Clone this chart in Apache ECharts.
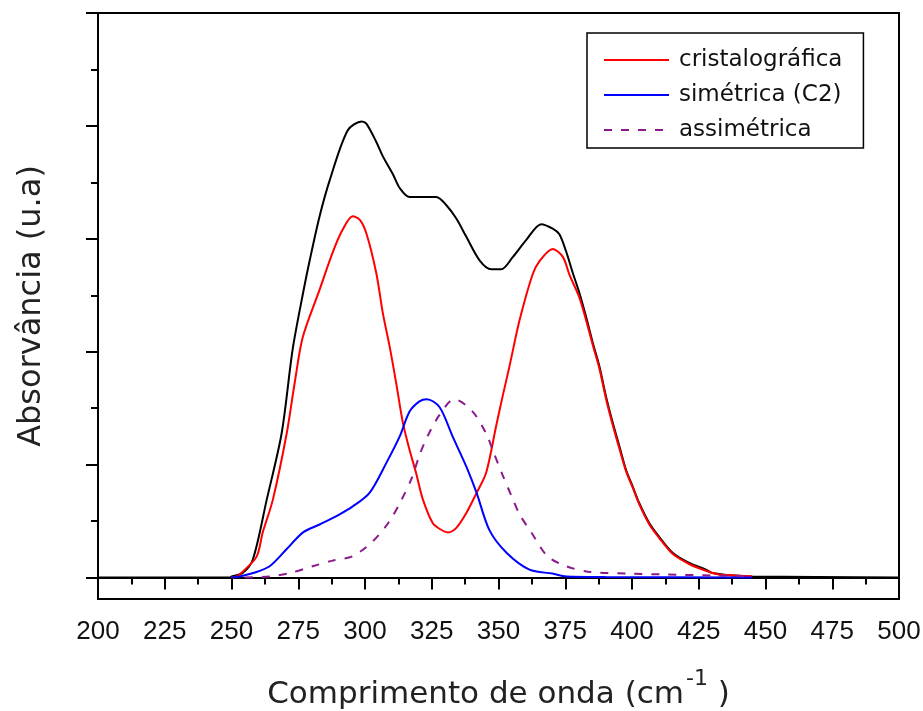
<!DOCTYPE html>
<html>
<head>
<meta charset="utf-8">
<script src="https://cdn.jsdelivr.net/npm/echarts@6/dist/echarts.min.js"></script>
<style>
  html, body { margin: 0; padding: 0; background: #fff; }
  #chart { width: 923px; height: 711px; }
</style>
</head>
<body>
<div id="chart"></div>
<script>
// Band components of the absorbance spectrum (wavenumber in cm^-1, absorbance in a.u.)
const legendNames = ['cristalográfica', 'simétrica (C2)', 'assimétrica'];

const totalWn = [200, 249.5, 250.1, 254.2, 258.0, 263.2, 268.8, 272.9, 276.8, 279.3, 283.0, 286.8, 293.5, 298.8, 300.5, 304.2, 306.7, 310.5, 313.0, 316.7, 321.7, 326.7, 330.4, 334.2, 337.9, 342.9, 347.3, 351.0, 355.4, 360.4, 366.0, 370.3, 372.8, 375.3, 377.8, 380.3, 382.8, 385.3, 387.8, 390.3, 392.8, 395.3, 397.8, 400.2, 402.7, 406.5, 410.2, 415.2, 421.4, 427.7, 430.2, 437.0, 445.0, 500];
const totalAbs = [0, 0, 0.01, 0.04, 0.16, 0.69, 1.28, 2.02, 2.52, 2.81, 3.20, 3.52, 3.96, 4.04, 4.02, 3.86, 3.73, 3.57, 3.45, 3.37, 3.37, 3.37, 3.30, 3.18, 3.02, 2.81, 2.73, 2.73, 2.84, 2.99, 3.13, 3.09, 3.04, 2.89, 2.70, 2.52, 2.31, 2.08, 1.87, 1.60, 1.37, 1.16, 0.95, 0.81, 0.66, 0.48, 0.36, 0.22, 0.13, 0.07, 0.04, 0.02, 0.01, 0];

const cristWn = [250, 252, 255, 259.5, 261.7, 265.5, 270.7, 273.7, 276.7, 283.0, 287.9, 291.6, 295.4, 298.0, 300.5, 304.2, 306.7, 309.2, 311.7, 314.2, 316.7, 319.2, 321.7, 325.4, 328.0, 331.1, 334.2, 337.9, 341.8, 345.4, 349.1, 351.5, 354.1, 357.9, 362.7, 365.3, 370.3, 374.1, 376.6, 380.3, 382.8, 385.3, 387.8, 390.3, 392.8, 395.3, 397.8, 400.2, 402.7, 406.5, 410.2, 415.2, 421.4, 427.7, 432.0, 437.0, 445.0];
const cristAbs = [0, 0.01, 0.07, 0.19, 0.40, 0.69, 1.28, 1.73, 2.13, 2.55, 2.88, 3.08, 3.20, 3.17, 3.05, 2.70, 2.34, 2.05, 1.72, 1.37, 1.13, 0.92, 0.69, 0.48, 0.43, 0.40, 0.44, 0.57, 0.75, 0.93, 1.34, 1.60, 1.87, 2.28, 2.68, 2.80, 2.91, 2.84, 2.68, 2.48, 2.28, 2.06, 1.85, 1.58, 1.35, 1.14, 0.94, 0.80, 0.65, 0.47, 0.35, 0.21, 0.12, 0.06, 0.03, 0.02, 0.01];

const simWn = [250, 253, 258.1, 264.3, 270.6, 276.8, 283.0, 290.5, 295.4, 301.7, 308.1, 313.0, 316.7, 320.4, 323.1, 327.9, 332.8, 338.0, 341.8, 346.6, 353.0, 361.6, 370.2, 375.4, 390, 445];
const simAbs = [0, 0.01, 0.04, 0.10, 0.25, 0.40, 0.47, 0.56, 0.63, 0.75, 1.02, 1.25, 1.47, 1.56, 1.58, 1.51, 1.25, 0.98, 0.75, 0.42, 0.22, 0.07, 0.035, 0.01, 0.005, 0];

const assimWn = [255, 264.3, 271.8, 280.4, 287.9, 295.4, 302.9, 309.2, 313.7, 317.5, 320.5, 323.4, 327.9, 333.5, 340.3, 345.5, 347.8, 351.5, 354.9, 357.9, 362.3, 368.3, 375.4, 384.0, 399.0, 412.8, 430.1, 445.0];
const assimAbs = [0, 0.01, 0.04, 0.10, 0.15, 0.19, 0.32, 0.50, 0.69, 0.88, 1.09, 1.25, 1.44, 1.58, 1.47, 1.27, 1.13, 0.91, 0.72, 0.56, 0.40, 0.19, 0.10, 0.05, 0.035, 0.027, 0.018, 0.01];

// Unlabelled absorbance ticks
const yMajorTicks = [0, 1, 2, 3, 4, 5];
const yMinorTicks = [0.5, 1.5, 2.5, 3.5, 4.5];

const pairs = (xs, ys) => xs.map((x, i) => [x, ys[i]]);

const chart = echarts.init(document.getElementById('chart'));

const yCommon = {
  type: 'value',
  min: -0.19,
  max: 5,
  position: 'left',
  axisLabel: { show: false },
  splitLine: { show: false }
};

chart.setOption({
  animation: false,
  backgroundColor: '#fff',
  grid: {
    left: 98, right: 24, top: 13, bottom: 112,
    containLabel: false,
    outerBoundsMode: 'none',
    show: true, borderColor: '#000', borderWidth: 2
  },
  legend: {
    orient: 'vertical',
    left: 587,
    top: 33,
    data: legendNames,
    itemWidth: 65,
    itemHeight: 14,
    itemGap: 11,
    padding: [15, 21, 6, 16],
    borderColor: '#000',
    borderWidth: 1.5,
    backgroundColor: '#fff',
    selectedMode: false,
    itemStyle: { opacity: 0 },
    textStyle: {
      fontFamily: 'DejaVu Sans',
      fontSize: 23,
      lineHeight: 24,
      color: '#111',
      padding: [0, 0, 0, 5]
    }
  },
  xAxis: {
    type: 'value',
    min: 200,
    max: 500,
    interval: 25,
    axisLine: { lineStyle: { color: '#000', width: 2 } },
    axisTick: { length: 12, lineStyle: { color: '#000', width: 2 } },
    minorTick: { show: true, splitNumber: 2, length: 7, lineStyle: { color: '#000', width: 2 } },
    splitLine: { show: false },
    minorSplitLine: { show: false },
    axisLabel: {
      fontFamily: 'Liberation Sans',
      fontSize: 26,
      color: '#111',
      margin: 20
    },
    name: '{a|Comprimento de onda (cm}{sup|-1}{a| )}',
    nameLocation: 'middle',
    nameGap: 77,
    nameTextStyle: {
      rich: {
        a: { fontFamily: 'DejaVu Sans', fontSize: 31, color: '#222', verticalAlign: 'bottom', lineHeight: 34 },
        sup: { fontFamily: 'DejaVu Sans', fontSize: 22, color: '#222', verticalAlign: 'bottom', lineHeight: 22, padding: [0, 0, 20, 2] }
      }
    }
  },
  yAxis: [
    Object.assign({}, yCommon, {
      axisLine: { show: true, lineStyle: { color: '#000', width: 2 } },
      axisTick: { show: true, customValues: yMajorTicks, length: 12, lineStyle: { color: '#000', width: 2 } },
      name: 'Absorvância (u.a)',
      nameLocation: 'middle',
      nameRotate: 90,
      nameGap: 50,
      nameTextStyle: { fontFamily: 'DejaVu Sans', fontSize: 32, color: '#222' }
    }),
    Object.assign({}, yCommon, {
      offset: 0,
      axisLine: { show: false },
      axisTick: { show: true, customValues: yMinorTicks, length: 7, lineStyle: { color: '#000', width: 2 } }
    })
  ],
  series: [
    {
      name: 'total',
      type: 'line',
      data: pairs(totalWn, totalAbs),
      symbol: 'none',
      smooth: 0.3,
      lineStyle: { color: '#000', width: 2 },
      itemStyle: { color: '#000' },
      z: 2
    },
    {
      name: legendNames[0],
      type: 'line',
      data: pairs(cristWn, cristAbs),
      symbol: 'none',
      smooth: 0.3,
      lineStyle: { color: '#ff0000', width: 2 },
      itemStyle: { color: '#ff0000' },
      z: 3
    },
    {
      name: legendNames[1],
      type: 'line',
      data: pairs(simWn, simAbs),
      symbol: 'none',
      smooth: 0.3,
      lineStyle: { color: '#0000ff', width: 2 },
      itemStyle: { color: '#0000ff' },
      z: 4
    },
    {
      name: legendNames[2],
      type: 'line',
      data: pairs(assimWn, assimAbs),
      symbol: 'none',
      smooth: 0.3,
      lineStyle: { color: '#8b1a8b', width: 2, type: [8, 9] },
      itemStyle: { color: '#8b1a8b' },
      z: 5
    }
  ]
});
</script>
</body>
</html>
